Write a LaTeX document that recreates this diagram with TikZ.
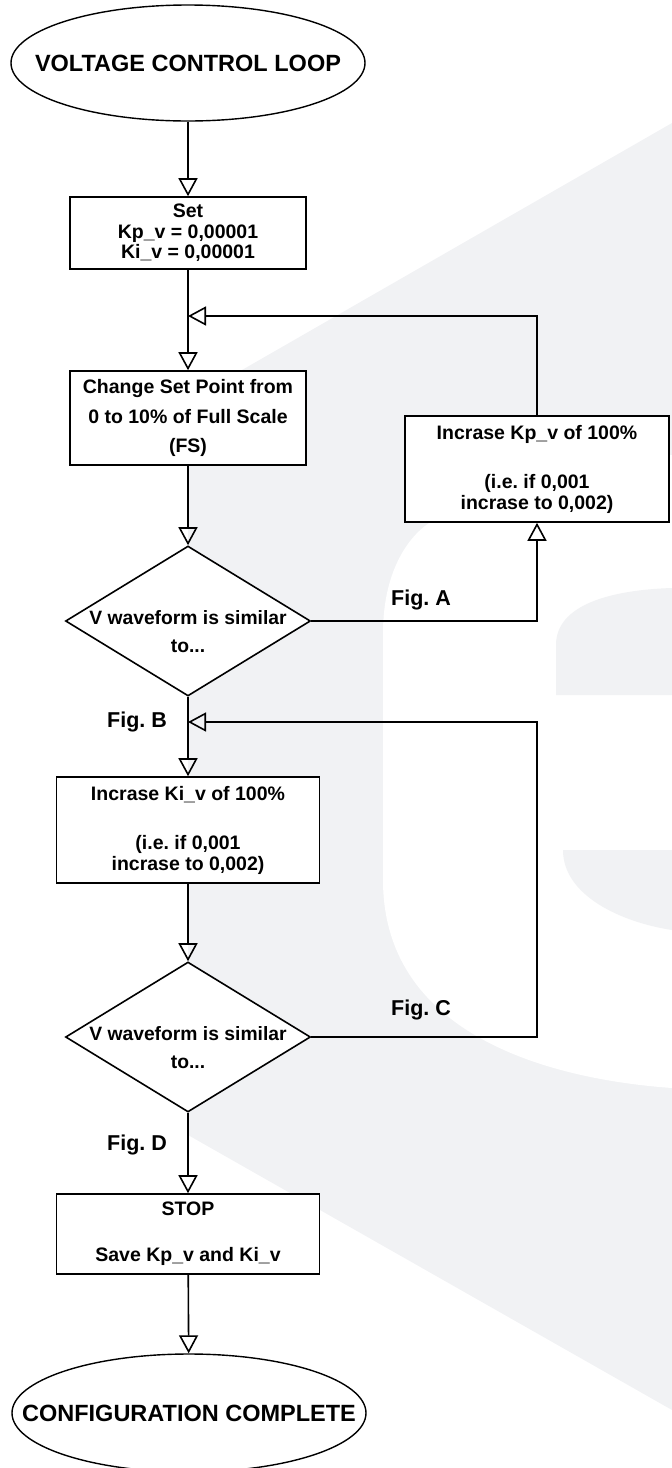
\documentclass[tikz,border=0pt]{standalone}
\usepackage{fontspec}
\setmainfont{Liberation Sans}
\usetikzlibrary{shapes.geometric,arrows.meta}
\definecolor{wmgrey}{RGB}{241,242,244}
\frenchspacing

\begin{document}
\begin{tikzpicture}[x=1pt,y=-1pt,
  terminal/.style={ellipse, draw, fill=white, line width=1.4pt, inner sep=0pt,
    minimum width=354pt, minimum height=116pt, font=\bfseries\fontsize{23.5}{26}\selectfont},
  box/.style={rectangle, draw, fill=white, line width=1.6pt, align=center,
    font=\bfseries\fontsize{19.5}{21}\selectfont},
  decision/.style={diamond, draw, fill=white, line width=1.6pt, inner sep=0pt,
    minimum width=245pt, minimum height=150pt},
  dectext/.style={align=center, font=\bfseries\fontsize{19.3}{28}\selectfont},
  figlabel/.style={font=\bfseries\fontsize{21.5}{24}\selectfont},
  flow/.style={draw, line width=1.6pt, -{Triangle[open, length=18pt, width=19pt]}}]
\useasboundingbox (0,0) rectangle (672,1468);
% watermark in the background
\fill[wmgrey] (188,401) -- (672,123) -- (672,1410) -- (188,1135) -- cycle;
\fill[white] (383,880) -- (383,633) .. controls (383,570) and (410,530) .. (440,517)
  .. controls (480,495) and (600,460) .. (672,455) -- (672,1088)
  .. controls (560,1080) and (383,1040) .. (383,880) -- cycle;
\fill[wmgrey] (556,695) -- (556,645) .. controls (556,605) and (610,590) .. (672,588) -- (672,695) -- cycle;
\fill[wmgrey] (563,850) .. controls (563,895) and (620,922) .. (672,930) -- (672,850) -- cycle;

% nodes
\node[terminal] (start) at (188,63) {\makebox[0pt]{VOLTAGE CONTROL LOOP}};
\node[box, minimum width=236pt, minimum height=72pt, font=\bfseries\fontsize{19.5}{20.5}\selectfont]
  (setgain) at (188,233) {Set\\Kp\_v = 0,00001\\Ki\_v = 0,00001};
\node[box, minimum width=236pt, minimum height=94pt, font=\bfseries\fontsize{19.5}{29.5}\selectfont]
  (setpoint) at (188,418) {Change Set Point from\\0 to 10\% of Full Scale\\(FS)};
\node[box, minimum width=264pt, minimum height=106pt]
  (incKp) at (537,469) {Incrase Kp\_v of 100\%\\[28pt](i.e. if 0,001\\incrase to 0,002)};
\node[decision] (decA) at (188,621) {};
\node[dectext] (decAtxt) at (188,632) {V waveform is similar\\to...};
\node[box, minimum width=263pt, minimum height=106pt]
  (incKi) at (188,830) {Incrase Ki\_v of 100\%\\[28pt](i.e. if 0,001\\incrase to 0,002)};
\node[decision] (decC) at (188,1037) {};
\node[dectext] (decCtxt) at (188,1048) {V waveform is similar\\to...};
\node[box, minimum width=263pt, minimum height=80pt]
  (stopbox) at (188,1234) {STOP\\[25pt]Save Kp\_v and Ki\_v};
\node[terminal, minimum height=118pt] (done) at (189,1413) {\makebox[0pt]{CONFIGURATION COMPLETE}};

\coordinate (joinA) at (188,316);
\coordinate (joinB) at (188,722);
\coordinate (backB) at (537,722);

% connectors
\draw[flow] (start) -- (setgain);
\draw[line width=1.6pt] (setgain) -- (joinA);
\draw[flow] (joinA) -- (setpoint);
\draw[flow] (incKp.north) |- (joinA);
\draw[flow] (setpoint) -- (decA);
\draw[flow] (decA.east) -| (incKp.south);
\draw[line width=1.6pt] (decA.south) -- (joinB);
\draw[flow] (joinB) -- (incKi);
\draw[flow] (incKi) -- (decC.north);
\draw[flow] (decC.east) -| (backB) -- (joinB);
\draw[flow] (decC.south) -- (stopbox);
\draw[flow] (stopbox) -- (done);

% labels
\node[figlabel] (figA) at (421,600) {Fig. A};
\node[figlabel] (figB) at (137,722) {Fig. B};
\node[figlabel] (figC) at (421,1010) {Fig. C};
\node[figlabel] (figD) at (137,1145) {Fig. D};
\end{tikzpicture}
\end{document}
